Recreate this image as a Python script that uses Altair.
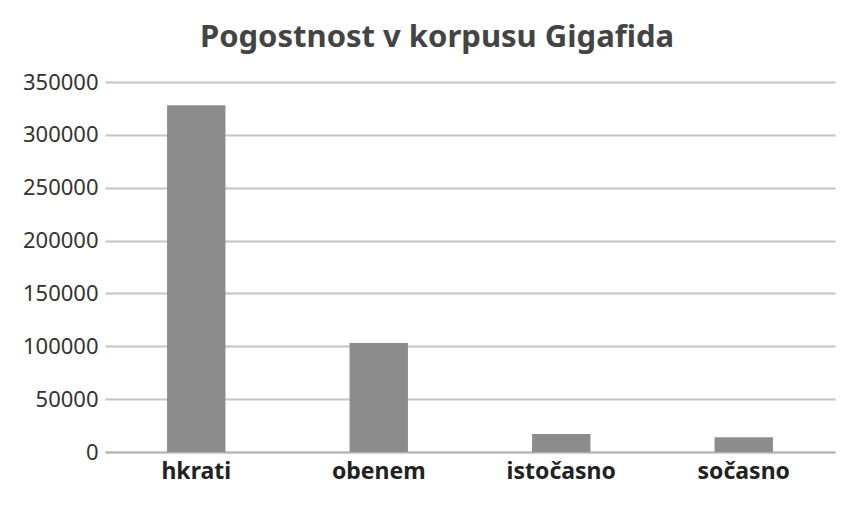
import altair as alt
import pandas as pd

categories = ["hkrati", "obenem", "istočasno", "sočasno"]
values = [328000, 103000, 17000, 14000]
y_ticks = [0, 50000, 100000, 150000, 200000, 250000, 300000, 350000]

df = pd.DataFrame({"beseda": categories, "pogostnost": values})

chart = alt.Chart(df).mark_bar(color="#8c8c8c").encode(
    x=alt.X("beseda:N", sort=categories, title=None,
            scale=alt.Scale(paddingInner=0.68, paddingOuter=0.34),
            axis=alt.Axis(labelAngle=0, labelFont="Noto Sans", labelFontWeight="bold",
                          labelFontSize=23, labelColor="#222", labelPadding=8,
                          domainColor="#b5b5b5", domainWidth=2, ticks=False)),
    y=alt.Y("pogostnost:Q", title=None,
            scale=alt.Scale(domain=[0, 350000]),
            axis=alt.Axis(values=y_ticks, format="d", labelFont="Noto Sans",
                          labelFontSize=22, labelColor="#333", labelPadding=7,
                          gridColor="#c4c4c4", gridWidth=2, domain=False, ticks=False))
).properties(
    width=730, height=370,
    title=alt.TitleParams("Pogostnost v korpusu Gigafida", font="Noto Sans",
                          fontSize=31, fontWeight="bold", color="#444",
                          anchor="middle", dx=-33, offset=17),
    autosize=alt.AutoSizeParams(type="none"),
    padding={"left": 97, "top": 74, "right": 20, "bottom": 40}
).configure_view(stroke=None)

chart.save("out.html", embed_options={"renderer": "svg", "actions": False})
